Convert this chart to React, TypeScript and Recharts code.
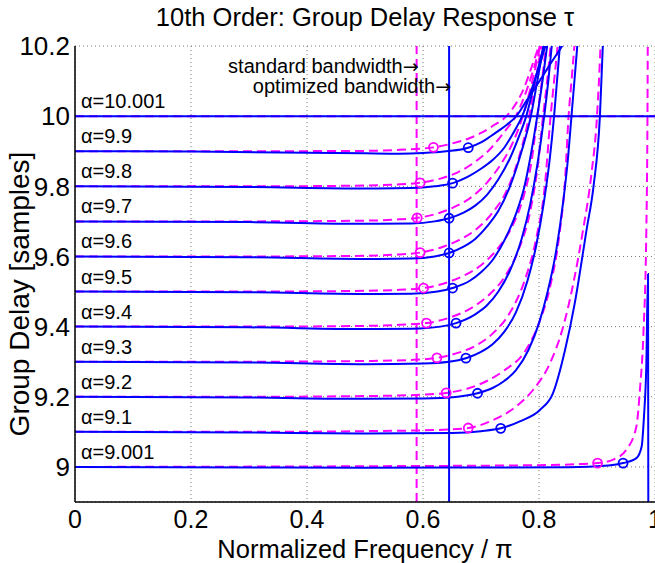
import { ComposedChart, Line, Scatter, XAxis, YAxis, CartesianGrid, ReferenceLine, ReferenceDot } from "recharts";

const FONT = "'Liberation Sans', Arial, Helvetica, sans-serif";
const BLUE = "#0000ff";
const MAGENTA = "#ff00ff";

const xTicks = [0, 0.2, 0.4, 0.6, 0.8, 1];
const yTicks = [9, 9.2, 9.4, 9.6, 9.8, 10, 10.2];

const alphaNames = ["10.001", "9.9", "9.8", "9.7", "9.6", "9.5", "9.4", "9.3", "9.2", "9.1", "9.001"];
const alphaLevels = [10, 9.9, 9.8, 9.7, 9.6, 9.5, 9.4, 9.3, 9.2, 9.1, 9];

const stdBandwidth = 0.589;
const optBandwidth = 0.645;

// optimized design (solid blue), [frequency, delay]
const opt10 = [[0, 10], [1, 10]];
const opt99 = [[0, 9.9], [0.2, 9.899], [0.4, 9.896], [0.5, 9.894], [0.56, 9.893], [0.6, 9.895], [0.64, 9.9], [0.678, 9.91], [0.7, 9.925], [0.716, 9.942], [0.73, 9.958], [0.744, 9.975], [0.761, 10], [0.78, 10.048], [0.802, 10.103], [0.82, 10.15], [0.839, 10.198], [0.86, 10.26]];
const opt98 = [[0, 9.8], [0.3, 9.798], [0.5, 9.794], [0.58, 9.795], [0.62, 9.8], [0.651, 9.809], [0.68, 9.83], [0.7, 9.85], [0.72, 9.875], [0.74, 9.91], [0.755, 9.95], [0.771, 10], [0.79, 10.09], [0.811, 10.2], [0.83, 10.32]];
const opt97 = [[0, 9.7], [0.3, 9.698], [0.5, 9.693], [0.58, 9.694], [0.62, 9.7], [0.645, 9.709], [0.67, 9.725], [0.69, 9.745], [0.71, 9.775], [0.73, 9.82], [0.75, 9.88], [0.765, 9.94], [0.778, 10], [0.793, 10.1], [0.808, 10.2], [0.825, 10.33]];
const opt96 = [[0, 9.6], [0.3, 9.598], [0.5, 9.593], [0.58, 9.594], [0.62, 9.6], [0.645, 9.61], [0.67, 9.628], [0.69, 9.65], [0.71, 9.685], [0.73, 9.73], [0.75, 9.8], [0.77, 9.9], [0.786, 10], [0.797, 10.1], [0.808, 10.2], [0.82, 10.32]];
const opt95 = [[0, 9.5], [0.3, 9.498], [0.5, 9.493], [0.58, 9.494], [0.625, 9.5], [0.651, 9.51], [0.68, 9.53], [0.7, 9.555], [0.72, 9.59], [0.74, 9.645], [0.76, 9.72], [0.775, 9.8], [0.787, 9.9], [0.797, 10], [0.806, 10.1], [0.814, 10.2], [0.825, 10.35]];
const opt94 = [[0, 9.4], [0.3, 9.398], [0.5, 9.393], [0.58, 9.394], [0.63, 9.4], [0.657, 9.41], [0.69, 9.435], [0.71, 9.46], [0.73, 9.5], [0.75, 9.56], [0.77, 9.65], [0.785, 9.75], [0.797, 9.86], [0.809, 10], [0.816, 10.1], [0.822, 10.2], [0.83, 10.35]];
const opt93 = [[0, 9.3], [0.3, 9.298], [0.5, 9.293], [0.6, 9.295], [0.645, 9.3], [0.674, 9.31], [0.7, 9.328], [0.72, 9.35], [0.74, 9.385], [0.76, 9.44], [0.78, 9.53], [0.795, 9.63], [0.808, 9.75], [0.818, 9.87], [0.826, 10], [0.831, 10.1], [0.836, 10.2], [0.842, 10.35]];
const opt92 = [[0, 9.2], [0.3, 9.198], [0.5, 9.194], [0.6, 9.195], [0.66, 9.2], [0.694, 9.21], [0.72, 9.225], [0.74, 9.245], [0.76, 9.275], [0.782, 9.334], [0.8, 9.41], [0.815, 9.5], [0.83, 9.62], [0.842, 9.76], [0.85, 9.88], [0.856, 10], [0.861, 10.1], [0.866, 10.2], [0.872, 10.35]];
const opt91 = [[0, 9.1], [0.3, 9.098], [0.5, 9.095], [0.65, 9.097], [0.7, 9.102], [0.734, 9.11], [0.767, 9.13], [0.802, 9.163], [0.824, 9.21], [0.845, 9.334], [0.862, 9.47], [0.882, 9.676], [0.894, 9.8], [0.905, 10], [0.91, 10.2], [0.915, 10.4]];
const opt90 = [[0, 9], [0.5, 8.998], [0.85, 8.999], [0.92, 9.004], [0.945, 9.011], [0.968, 9.025], [0.977, 9.058], [0.981, 9.144], [0.985, 9.287], [0.988, 9.55], [0.9885, 8.85]];

// standard design (dashed magenta)
const std10 = [[0, 10], [1, 10]];
const std99 = [[0, 9.9], [0.3, 9.9], [0.5, 9.901], [0.56, 9.904], [0.618, 9.911], [0.65, 9.922], [0.68, 9.937], [0.7, 9.952], [0.72, 9.972], [0.744, 10], [0.77, 10.065], [0.8, 10.2], [0.83, 10.33]];
const std98 = [[0, 9.8], [0.3, 9.8], [0.5, 9.802], [0.55, 9.805], [0.595, 9.81], [0.63, 9.822], [0.66, 9.84], [0.69, 9.87], [0.715, 9.905], [0.74, 9.955], [0.76, 10], [0.78, 10.08], [0.8, 10.19], [0.815, 10.3]];
const std97 = [[0, 9.7], [0.3, 9.7], [0.5, 9.702], [0.55, 9.705], [0.59, 9.71], [0.62, 9.72], [0.65, 9.738], [0.68, 9.765], [0.71, 9.81], [0.735, 9.865], [0.755, 9.925], [0.772, 10], [0.787, 10.09], [0.802, 10.2], [0.815, 10.32]];
const std96 = [[0, 9.6], [0.3, 9.6], [0.5, 9.602], [0.55, 9.605], [0.595, 9.611], [0.63, 9.625], [0.66, 9.645], [0.69, 9.675], [0.72, 9.725], [0.745, 9.79], [0.765, 9.88], [0.783, 10], [0.794, 10.1], [0.804, 10.2], [0.815, 10.33]];
const std95 = [[0, 9.5], [0.3, 9.5], [0.5, 9.502], [0.56, 9.505], [0.601, 9.51], [0.64, 9.525], [0.67, 9.545], [0.7, 9.575], [0.73, 9.625], [0.755, 9.69], [0.775, 9.78], [0.788, 9.88], [0.797, 10], [0.805, 10.1], [0.812, 10.2], [0.82, 10.33]];
const std94 = [[0, 9.4], [0.3, 9.4], [0.5, 9.402], [0.56, 9.405], [0.606, 9.41], [0.65, 9.428], [0.68, 9.45], [0.71, 9.485], [0.74, 9.54], [0.765, 9.62], [0.785, 9.73], [0.798, 9.86], [0.807, 10], [0.814, 10.1], [0.82, 10.2], [0.828, 10.35]];
const std93 = [[0, 9.3], [0.3, 9.3], [0.5, 9.302], [0.58, 9.305], [0.624, 9.311], [0.66, 9.325], [0.69, 9.345], [0.72, 9.38], [0.75, 9.44], [0.775, 9.53], [0.795, 9.65], [0.81, 9.8], [0.82, 10], [0.826, 10.1], [0.832, 10.2], [0.838, 10.35]];
const std92 = [[0, 9.2], [0.3, 9.2], [0.5, 9.202], [0.6, 9.206], [0.64, 9.211], [0.68, 9.225], [0.71, 9.245], [0.74, 9.275], [0.776, 9.33], [0.8, 9.41], [0.82, 9.52], [0.835, 9.66], [0.845, 9.82], [0.851, 10], [0.856, 10.1], [0.861, 10.2], [0.867, 10.35]];
const std91 = [[0, 9.1], [0.3, 9.1], [0.5, 9.102], [0.62, 9.105], [0.678, 9.111], [0.716, 9.13], [0.761, 9.173], [0.79, 9.22], [0.819, 9.296], [0.84, 9.39], [0.86, 9.53], [0.876, 9.676], [0.89, 9.83], [0.9, 10], [0.906, 10.2], [0.91, 10.4]];
const std90 = [[0, 9], [0.5, 9.002], [0.8, 9.005], [0.87, 9.008], [0.901, 9.011], [0.928, 9.021], [0.951, 9.05], [0.968, 9.116], [0.974, 9.22], [0.98, 9.38], [0.985, 9.67], [0.987, 10], [0.988, 10.4]];

// band-edge markers
const optMarks = [[0.678, 9.91], [0.651, 9.809], [0.645, 9.709], [0.645, 9.61], [0.651, 9.51], [0.657, 9.41], [0.674, 9.31], [0.694, 9.21], [0.734, 9.11], [0.945, 9.011]];
const stdMarks = [[0.618, 9.911], [0.595, 9.81], [0.59, 9.71], [0.595, 9.611], [0.601, 9.51], [0.606, 9.41], [0.624, 9.311], [0.64, 9.211], [0.678, 9.111], [0.901, 9.011]];

const optCurves = [opt10, opt99, opt98, opt97, opt96, opt95, opt94, opt93, opt92, opt91, opt90];
const stdCurves = [std10, std99, std98, std97, std96, std95, std94, std93, std92, std91, std90];

const pts = (a: number[][]) => a.map(([x, y]) => ({ x, y }));

const tag = (text: string, dx: number, dy: number, anchor: "start" | "end", arrow = false) => (props: any) => {
  const vb = props.viewBox;
  const cx = vb.x + vb.width / 2;
  const cy = vb.y + vb.height / 2;
  return (
    <text x={cx + dx} y={cy + dy} textAnchor={anchor} fontSize={20} fontFamily={FONT} fill="#000">
      {text}
      {arrow && <tspan fontFamily="'DejaVu Sans'" fontSize={19}>→</tspan>}
    </text>
  );
};

const ring = (color: string) => (p: any) => (
  <circle cx={p.cx} cy={p.cy} r={4.5} fill="none" stroke={color} strokeWidth={1.8} />
);

export default function App() {
  return (
    <div style={{ position: "absolute", left: 0, top: 0, width: 655, height: 563, overflow: "hidden", background: "#fff" }}>
      <div
        style={{
          position: "absolute",
          left: 75,
          width: 580,
          top: 4,
          textAlign: "center",
          fontFamily: FONT,
          fontSize: 25.5,
          lineHeight: "26px",
          color: "#000",
        }}
      >
        10th Order: Group Delay Response τ
      </div>
      <ComposedChart width={690} height={563} margin={{ top: 46, right: 35, bottom: 0, left: 0 }}>
        <CartesianGrid stroke="#777" strokeDasharray="1 3" />
        <XAxis
          type="number"
          dataKey="x"
          domain={[0, 1]}
          ticks={xTicks}
          interval={0}
          allowDataOverflow
          tickFormatter={(v) => String(v)}
          tick={{ fontSize: 25, fill: "#000", fontFamily: FONT }}
          tickLine={false}
          tickSize={6}
          axisLine={{ stroke: "#000", strokeWidth: 1.5 }}
          height={61}
          label={{ value: "Normalized Frequency / π", position: "insideBottom", offset: 5, fontSize: 25.5, fill: "#000", fontFamily: FONT }}
        />
        <YAxis
          type="number"
          domain={[8.9, 10.2]}
          ticks={yTicks}
          interval={0}
          allowDataOverflow
          tickFormatter={(v) => String(v)}
          tick={{ fontSize: 26, fill: "#000", fontFamily: FONT }}
          tickLine={false}
          tickSize={3}
          axisLine={{ stroke: "#000", strokeWidth: 1.5 }}
          width={75}
          label={{
            content: (props: any) => {
              const vb = props.viewBox;
              const cx = vb.x + 19;
              const cy = vb.y + vb.height / 2 + 20;
              return (
                <text
                  x={cx}
                  y={cy}
                  transform={`rotate(-90, ${cx}, ${cy})`}
                  textAnchor="middle"
                  dominantBaseline="central"
                  fontSize={28}
                  fontFamily={FONT}
                  fill="#000"
                >
                  Group Delay [samples]
                </text>
              );
            },
          }}
        />
        <ReferenceLine x={stdBandwidth} stroke={MAGENTA} strokeWidth={2} strokeDasharray="9 5" />
        <ReferenceLine x={optBandwidth} stroke={BLUE} strokeWidth={2} />
        {stdCurves.map((c, i) => (
          <Line
            key={"s" + i}
            data={pts(c)}
            dataKey="y"
            type="monotone"
            stroke={MAGENTA}
            strokeWidth={2}
            strokeDasharray="9 5"
            dot={false}
            activeDot={false}
            isAnimationActive={false}
          />
        ))}
        {optCurves.map((c, i) => (
          <Line
            key={"o" + i}
            data={pts(c)}
            dataKey="y"
            type="monotone"
            stroke={BLUE}
            strokeWidth={2}
            dot={false}
            activeDot={false}
            isAnimationActive={false}
          />
        ))}
        <Scatter data={pts(stdMarks)} dataKey="y" shape={ring(MAGENTA)} isAnimationActive={false} />
        <Scatter data={pts(optMarks)} dataKey="y" shape={ring(BLUE)} isAnimationActive={false} />
        {alphaLevels.map((a, i) => (
          <ReferenceDot
            key={"a" + i}
            x={0}
            y={a}
            r={1}
            fill="none"
            stroke="none"
            label={tag("α=" + alphaNames[i], 6, -8, "start")}
          />
        ))}
        <ReferenceDot x={stdBandwidth} y={10.143} r={1} fill="none" stroke="none" label={tag("standard bandwidth", 2, 7, "end", true)} />
        <ReferenceDot x={optBandwidth} y={10.086} r={1} fill="none" stroke="none" label={tag("optimized bandwidth", 2, 7, "end", true)} />
      </ComposedChart>
    </div>
  );
}
